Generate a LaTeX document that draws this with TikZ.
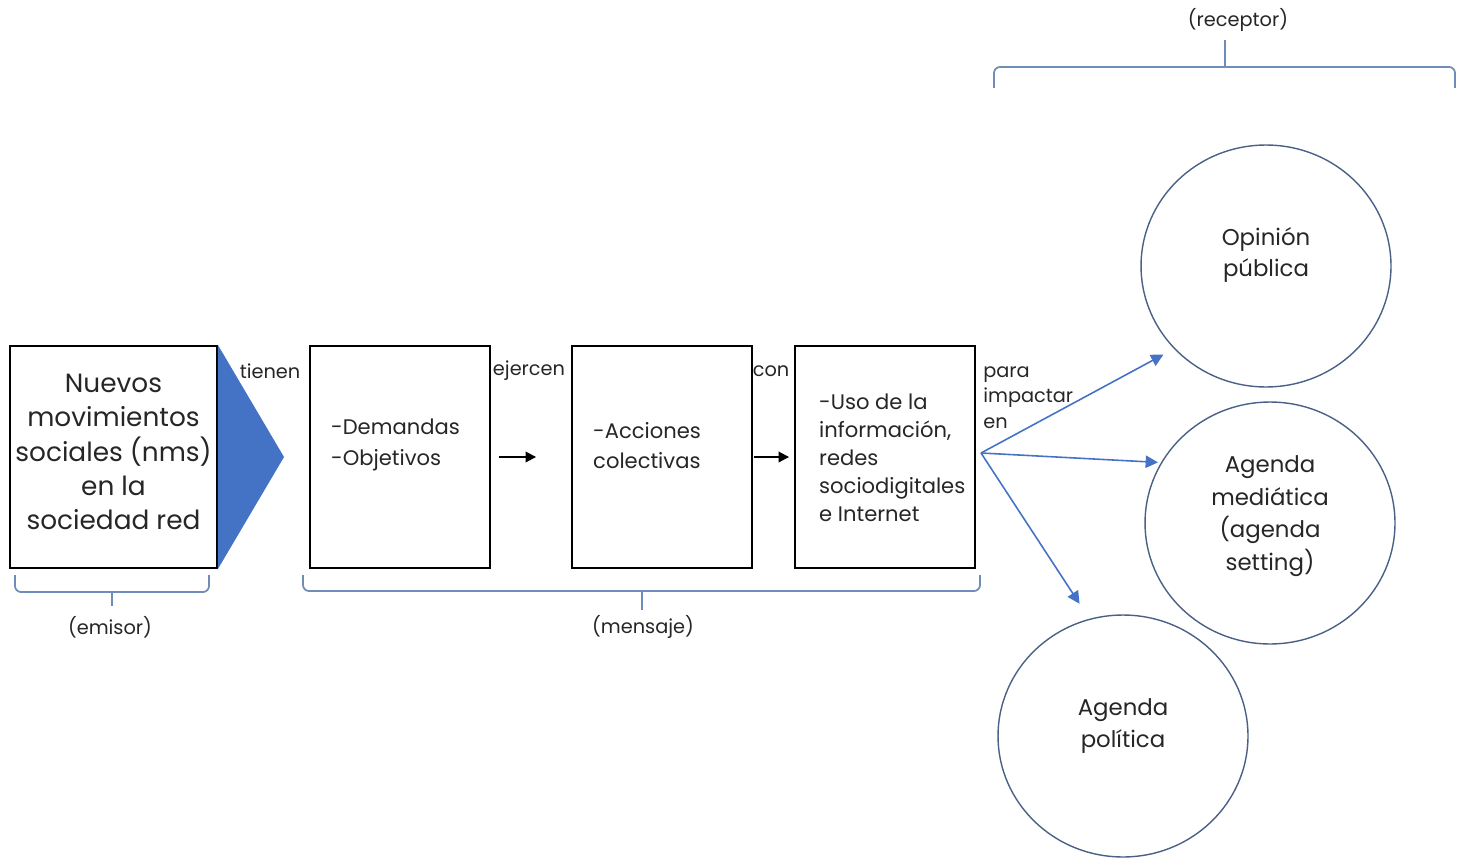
\documentclass[tikz,border=0pt]{standalone}
\usepackage{fontspec}
\setmainfont{Poppins}
\usepackage{xcolor}
\usetikzlibrary{arrows.meta,shapes.geometric}
\definecolor{azul}{HTML}{4472C4}
\definecolor{contorno}{HTML}{4A6185}
\definecolor{llavec}{HTML}{6F8DB8}
\definecolor{texto}{HTML}{262626}
\tikzstyle{caja} = [draw, line width=1.1pt, minimum width=3.6cm, minimum height=4.44cm, inner sep=0pt]
\tikzstyle{circulo} = [draw=contorno, line width=0.8pt, ellipse, minimum width=5cm, minimum height=4.84cm]
\tikzstyle{llave} = [draw=llavec, line width=1pt, rounded corners=0.12cm]
\tikzstyle{flechaazul} = [draw=azul, line width=0.9pt, -{Triangle[length=7pt,width=7pt]}]
\tikzstyle{flechanegra} = [line width=1.1pt, -{Triangle[length=6pt,width=6pt]}]

\begin{document}
\begin{tikzpicture}[x=0.02cm, y=-0.02cm, text=texto]
\useasboundingbox (0,0) rectangle (1466,858);

% emisor
\node[caja, minimum width=4.14cm] (nms) at (113.5,457) {};
\node[align=center, font=\fontsize{15}{19.6}\selectfont] (nmst) at (113.5,452)
  {Nuevos\\movimientos\\sociales (nms)\\en la\\sociedad red};
\coordinate (punta) at (284,457);
\fill[azul] (nms.north east) -- (punta) -- (nms.south east) -- cycle;

% mensaje
\node[caja] (dem) at (400,457) {};
\node[caja] (acc) at (662,457) {};
\node[caja] (uso) at (885,457) {};
\node[anchor=west, align=left, font=\fontsize{12}{18}\selectfont] (demt) at (325,445) {-Demandas\\-Objetivos};
\node[anchor=west, align=left, font=\fontsize{12}{17}\selectfont] (acct) at (587,446) {-Acciones\\colectivas};
\node[anchor=west, align=left, font=\fontsize{12}{16}\selectfont] (usot) at (813,458)
  {-Uso de la\\información,\\redes\\sociodigitales\\e Internet};

% verbos
\node[font=\fontsize{11}{13}\selectfont] (tienen) at (270,371) {tienen};
\node[font=\fontsize{11}{13}\selectfont] (ejercen) at (529,371) {ejercen};
\node[font=\fontsize{11}{13}\selectfont] (con) at (771,371) {con};
\node[anchor=north west, align=left, inner sep=0pt, font=\fontsize{11}{14.5}\selectfont] (para) at (983,366) {para\\impactar\\en};

\draw[flechanegra, shorten <=0.16cm, shorten >=0.7cm] (dem) -- (acc);
\draw[flechanegra, shorten <=0.02cm, shorten >=0.1cm] (acc.east) -- (uso.west);

% receptor
\node[circulo] (op) at (1266,266) {};
\node[circulo] (med) at (1270,523) {};
\node[circulo] (pol) at (1123,736) {};
\node[align=center, font=\fontsize{13}{17.6}\selectfont] (opt) at (1266,255) {Opinión\\pública};
\node[align=center, font=\fontsize{13}{18.5}\selectfont] (medt) at (1270,516) {Agenda\\mediática\\(agenda\\setting)};
\node[align=center, font=\fontsize{13}{18}\selectfont] (polt) at (1123,726) {Agenda\\política};

\coordinate (salida) at (981,453);
\draw[flechaazul, shorten >=0.24cm] (salida) -- (op.222);
\draw[flechaazul, shorten >=0.06cm] (salida) -- (med.151);
\draw[flechaazul, shorten >=0.36cm] (salida) -- (pol.106);

% llaves
\draw[llave] (15,575) -- (15,592) -- (209,592) -- (209,575);
\draw[llave] (112,592) -- (112,606);
\node[font=\fontsize{11}{13}\selectfont] (emisor) at (110,627) {(emisor)};

\draw[llave] (303,575) -- (303,591) -- (980,591) -- (980,575);
\draw[llave] (642,591) -- (642,610);
\node[font=\fontsize{11}{13}\selectfont] (mensaje) at (643,627) {(mensaje)};

\draw[llave] (994,88) -- (994,67) -- (1455,67) -- (1455,88);
\draw[llave] (1225,67) -- (1225,40);
\node[font=\fontsize{11}{13}\selectfont] (receptor) at (1238,20) {(receptor)};

\end{tikzpicture}
\end{document}
